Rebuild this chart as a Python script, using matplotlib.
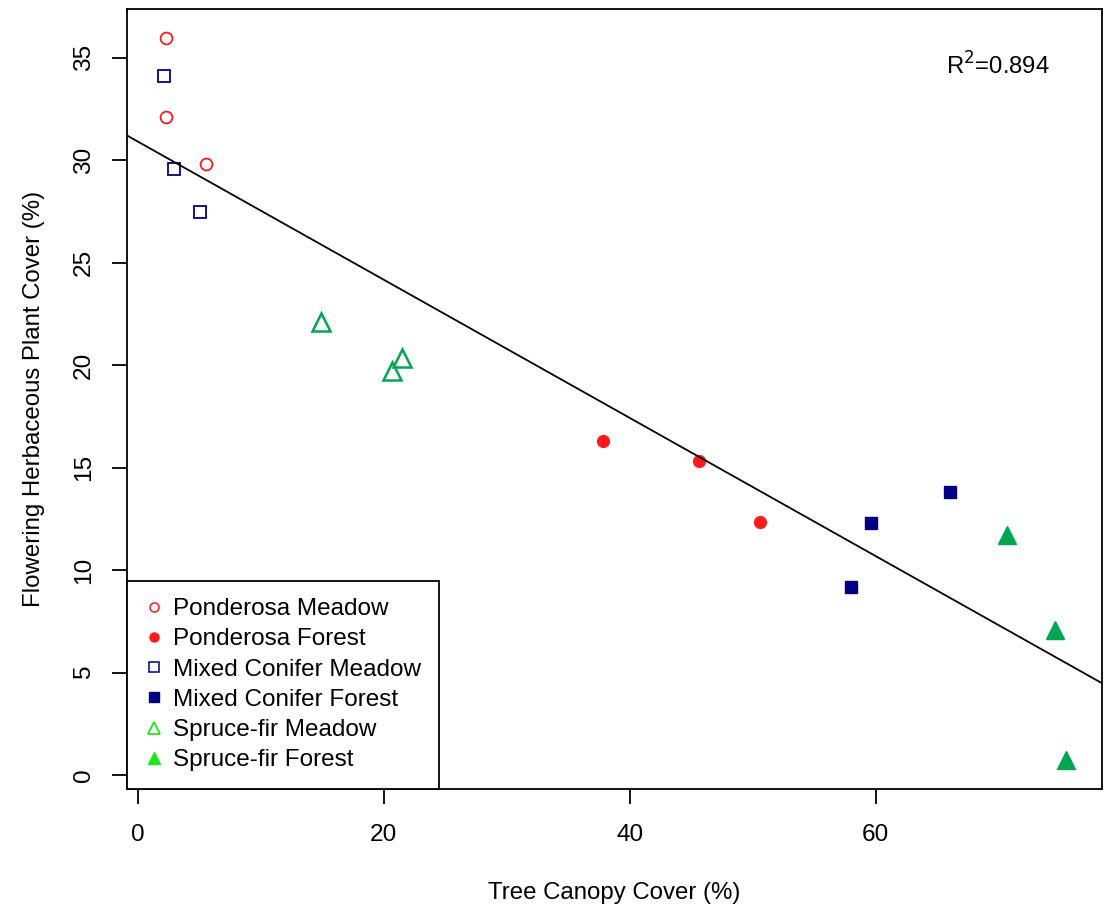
import matplotlib.pyplot as plt
from matplotlib.lines import Line2D

plt.rcParams['font.family'] = ['Liberation Sans', 'DejaVu Sans']

# canopy cover (%) and flowering herbaceous plant cover (%) per site type
pond_meadow_x = [2.3, 2.3, 5.5]
pond_meadow_y = [35.95, 32.1, 29.8]
pond_forest_x = [37.8, 45.6, 50.6]
pond_forest_y = [16.3, 15.3, 12.35]
mixed_meadow_x = [2.1, 2.9, 5.05]
mixed_meadow_y = [34.1, 29.55, 27.45]
mixed_forest_x = [58.0, 59.6, 66.0]
mixed_forest_y = [9.15, 12.3, 13.8]
spruce_meadow_x = [14.9, 20.7, 21.5]
spruce_meadow_y = [22.1, 19.7, 20.35]
spruce_forest_x = [70.7, 74.6, 75.5]
spruce_forest_y = [11.7, 7.1, 0.75]

fit_intercept = 30.9
fit_slope = -0.337
r2_text = "R$^2$=0.894"

labels = ["Ponderosa Meadow", "Ponderosa Forest", "Mixed Conifer Meadow",
          "Mixed Conifer Forest", "Spruce-fir Meadow", "Spruce-fir Forest"]

red = "#ff1a1a"
navy = "#000080"
green_pt = "#00a650"
green_leg = "#1ee61e"

fs = 17.6
fs_leg = 17.5
fs_lab = 17.3

fig = plt.figure(figsize=(11.07, 9.07), dpi=100)
ax = fig.add_axes([0.1147, 0.1301, 0.8808, 0.8600])

ax.plot(pond_meadow_x, pond_meadow_y, 'o', ms=8.5, mfc='none', mec=red, mew=1.3, ls='none')
ax.plot(pond_forest_x, pond_forest_y, 'o', ms=8.5, mfc=red, mec=red, ls='none')
ax.plot(mixed_meadow_x, mixed_meadow_y, 's', ms=8.5, mfc='none', mec=navy, mew=1.3, ls='none')
ax.plot(mixed_forest_x, mixed_forest_y, 's', ms=8.5, mfc=navy, mec=navy, ls='none')
ax.plot(spruce_meadow_x, spruce_meadow_y, '^', ms=13, mfc='none', mec=green_pt, mew=1.8, ls='none')
ax.plot(spruce_forest_x, spruce_forest_y, '^', ms=13, mfc=green_pt, mec=green_pt, ls='none')

ax.axline((0, fit_intercept), slope=fit_slope, color='black', lw=1.3)

ax.set_xlim(-0.89, 78.4)
ax.set_ylim(-0.68, 37.37)
ax.set_xticks([0, 20, 40, 60])
ax.set_yticks([0, 5, 10, 15, 20, 25, 30, 35])
ax.tick_params(direction='out', length=11, width=1.3, labelsize=fs)
ax.tick_params(axis='x', pad=14)
ax.tick_params(axis='y', pad=12)
for lab in ax.get_yticklabels():
    lab.set_rotation(90)
    lab.set_va('center')
for sp in ax.spines.values():
    sp.set_linewidth(1.3)

ax.set_xlabel("Tree Canopy Cover (%)", fontsize=fs_lab, labelpad=26)
ax.set_ylabel("Flowering Herbaceous Plant Cover (%)", fontsize=fs_lab, labelpad=20)

ax.text(65.7, 34.6, r2_text, fontsize=17.2, va='center', ha='left')

handles = [
    Line2D([], [], marker='o', ls='none', ms=6.5, mfc='none', mec=red, mew=1.1),
    Line2D([], [], marker='o', ls='none', ms=6.5, mfc=red, mec=red),
    Line2D([], [], marker='s', ls='none', ms=6.5, mfc='none', mec=navy, mew=1.1),
    Line2D([], [], marker='s', ls='none', ms=6.5, mfc=navy, mec=navy),
    Line2D([], [], marker='^', ls='none', ms=9, mfc='none', mec=green_leg, mew=1.3),
    Line2D([], [], marker='^', ls='none', ms=9, mfc=green_leg, mec=green_leg),
]
leg = ax.legend(handles, labels, loc='lower left', borderaxespad=0, fontsize=fs_leg,
                frameon=True, fancybox=False, edgecolor='black', framealpha=1,
                handletextpad=0.38, handlelength=0.8, labelspacing=0.34,
                borderpad=0.72)
leg.get_frame().set_linewidth(1.3)

fig.savefig("out.png", dpi=100)
